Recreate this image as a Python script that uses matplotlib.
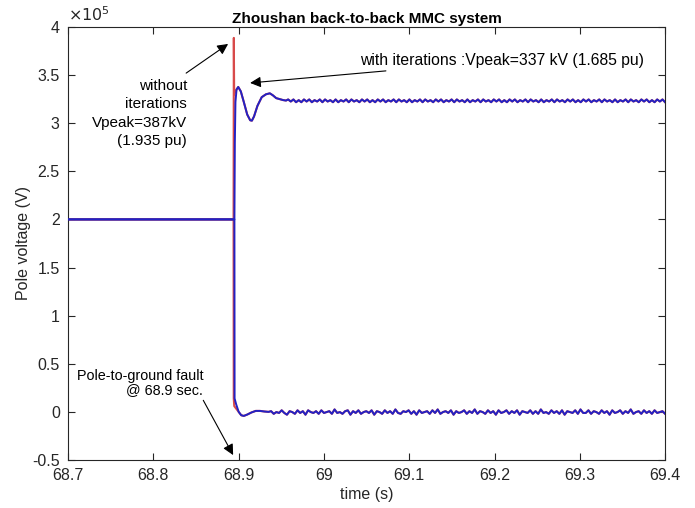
import numpy as np
import matplotlib.pyplot as plt
import matplotlib as mpl

mpl.rcParams.update({
    'font.family': ['Liberation Sans', 'DejaVu Sans'],
    'font.size': 11,
    'xtick.direction': 'in',
    'ytick.direction': 'in',
})

# DATA (voltage in units of 1e5 V)
# before the fault both poles sit at 2e5 V
t_pre = [68.7, 68.8948]
v_pre = [2.0, 2.0]

# upper pole, with iterations (blue)
t_up_blue = [68.8950, 68.8955, 68.8962, 68.8975, 68.8995, 68.9025, 68.9060,
             68.9100, 68.9135, 68.9155, 68.9180, 68.9220, 68.9270, 68.9320,
             68.9365, 68.9400, 68.9440, 68.9480, 68.9520, 68.9555]
v_up_blue = [2.00, 2.80, 3.22, 3.35, 3.376, 3.33, 3.22,
             3.09, 3.03, 3.026, 3.07, 3.18, 3.27, 3.30,
             3.31, 3.29, 3.26, 3.25, 3.24, 3.235]

# upper pole, without iterations (red): spike at the fault, then same as blue
t_up_red_spike = [68.8940, 68.8943, 68.8947]
v_up_red_spike = [2.00, 3.886, 3.30]

# lower pole, with iterations (blue)
t_lo_blue = [68.8950, 68.8952, 68.8970, 68.9000, 68.9030, 68.9060, 68.9100,
             68.9150, 68.9200, 68.9250, 68.9300, 68.9350]
v_lo_blue = [2.00, 0.14, 0.08, 0.00, -0.035, -0.042, -0.028,
             -0.006, 0.010, 0.010, 0.004, 0.000]

# lower pole, without iterations (red)
t_lo_red_spike = [68.8940, 68.8942, 68.8948]
v_lo_red_spike = [2.00, 0.14, 0.06]

# steady state levels and ripple (kV deviations)
upper_level = 3.232
upper_ripple_kv = [
    2, -1, 2, -2, 1, -2, 2, -1, 2, -2, 1, -1, 2, -2, 2, -1, 1, -2,
    2, -2, 1, -1, 2, -2, 2, -1, 1, -2, 2, -1, 2, -2, 1, -2, 2, -1,
    2, -2, 1, -1, 2, -2, 2, -1, 1, -2, 2, -2, 1, -1, 2, -2, 2, -1,
    1, -2, 2, -1, 2, -2, 1, -1, 2, -2, 2, -1, 1, -2, 2, -2, 1, -1,
    2, -2, 2, -1, 1, -2, 2, -1, 2, -2, 1, -2, 2, -1, 2, -2, 1, -1,
    2, -2, 2, -1, 1, -2, 2, -2, 1, -1, 2, -2, 2, -1, 1, -2, 2, -1,
    2, -2, 1, -2, 2, -1, 2, -2, 1, -1, 2, -2, 2, -1, 1, -2, 2, -2,
    1, -1, 2, -2, 2, -1, 1, -2, 2, -1, 2, -2, 1, -2, 2, -1, 2, -2,
]
lower_level = -0.002
lower_ripple_kv = [
    1, -2, 0, -1, 2, -1, -3, 1, 0, -2, 2, -1, 1, -3, 2, 0, -1, 1,
    -2, 2, -1, 0, 1, -2, 3, -1, 0, -2, 1, 2, -3, 1, -1, 2, -2, 0,
    1, -1, 2, -3, 1, 0, -2, 2, -1, 1, -2, 3, -1, -2, 1, 0, 2, -2,
    1, -3, 2, -1, 0, 1, -2, 2, -1, 3, -2, 0, 1, -1, 2, -3, 1, -1,
    0, 2, -2, 1, -1, 3, -2, 1, 0, -2, 2, -1, 1, -3, 2, -1, 0, 2,
    -2, 1, -1, 2, -3, 1, 0, -1, 2, -2, 1, -2, 3, -1, 0, -2, 2, -1,
    1, -2, 2, -3, 1, 0, -1, 2, -2, 3, -1, -1, 2, -2, 1, 0, -2, 2,
    -1, 1, -3, 2, -1, 0, 2, -2, 1, -1, 3, -2, 0, 1, -2, 2, -1, 1,
    -2, 2, -1, 0, 1, -2,
]

x_ticks = [68.7, 68.8, 68.9, 69.0, 69.1, 69.2, 69.3, 69.4]
y_ticks = [-0.5, 0, 0.5, 1, 1.5, 2, 2.5, 3, 3.5, 4]

# build the traces
t_up_ss = np.linspace(68.958, 69.4, len(upper_ripple_kv))
v_up_ss = upper_level + np.array(upper_ripple_kv) / 140.0
t_lo_ss = np.linspace(68.938, 69.4, len(lower_ripple_kv))
v_lo_ss = lower_level + np.array(lower_ripple_kv) / 110.0

up_blue_t = np.concatenate([t_pre, t_up_blue, t_up_ss])
up_blue_v = np.concatenate([v_pre, v_up_blue, v_up_ss])
up_red_t = np.concatenate([t_pre[:1], t_up_red_spike, t_up_blue[3:], t_up_ss])
up_red_v = np.concatenate([v_pre[:1], v_up_red_spike, v_up_blue[3:], v_up_ss])

lo_blue_t = np.concatenate([t_pre, t_lo_blue, t_lo_ss])
lo_blue_v = np.concatenate([v_pre, v_lo_blue, v_lo_ss])
lo_red_t = np.concatenate([t_pre[:1], t_lo_red_spike, t_lo_blue[3:], t_lo_ss])
lo_red_v = np.concatenate([v_pre[:1], v_lo_red_spike, v_lo_blue[3:], v_lo_ss])

red = '#d84a4a'
blue = '#2222c4'

fig = plt.figure(figsize=(6.95, 5.08), dpi=100)
ax = fig.add_axes([0.098, 0.0945, 0.859, 0.8525])

ax.plot(up_red_t, up_red_v, color=red, lw=1.5, zorder=2)
ax.plot(lo_red_t, lo_red_v, color=red, lw=1.5, zorder=2)
ax.plot(up_blue_t, up_blue_v, color=blue, lw=1.4, zorder=3)
ax.plot(lo_blue_t, lo_blue_v, color=blue, lw=1.4, zorder=3)

ax.set_xlim(68.7, 69.4)
ax.set_ylim(-0.5, 4)
ax.set_xticks(x_ticks)
ax.set_yticks(y_ticks)
ax.set_xticklabels(['%g' % round(v, 1) for v in x_ticks])
ax.set_yticklabels(['%g' % v for v in y_ticks])
ax.tick_params(top=True, right=True, length=5, width=0.8, colors='#262626',
               labelsize=11.5, pad=6)
for spine in ax.spines.values():
    spine.set_color('#262626')
    spine.set_linewidth(0.8)

ax.text(0.0, 1.006, r'$\times10^{5}$', transform=ax.transAxes, fontsize=11.5,
        ha='left', va='bottom', color='#262626')

ax.set_title('Zhoushan back-to-back MMC system', fontsize=11, fontweight='bold', pad=3)
ax.set_xlabel('time (s)', fontsize=11.5, color='#262626', labelpad=3)
ax.set_ylabel('Pole voltage (V)', fontsize=11.5, color='#262626', labelpad=1)

arrow = dict(arrowstyle='-|>', color='k', lw=0.8, mutation_scale=16, shrinkA=0, shrinkB=0)

ax.text(68.8396, 3.10, 'without\niterations\nVpeak=387kV\n(1.935 pu)',
        ha='right', va='center', multialignment='right', fontsize=11,
        linespacing=1.42)
ax.annotate('', xy=(68.8876, 3.823), xytext=(68.8384, 3.52), arrowprops=arrow)

ax.annotate('with iterations :Vpeak=337 kV (1.685 pu)',
            xy=(68.9134, 3.418), xytext=(69.042, 3.65),
            ha='left', va='center', fontsize=11.3, arrowprops=arrow)

ax.text(68.8585, 0.30, 'Pole-to-ground fault\n@ 68.9 sec.', ha='right', va='center',
        multialignment='right', fontsize=10.4, linespacing=1.05)
ax.annotate('', xy=(68.8935, -0.449), xytext=(68.8585, 0.12), arrowprops=arrow)

fig.savefig('out.png', dpi=100)
